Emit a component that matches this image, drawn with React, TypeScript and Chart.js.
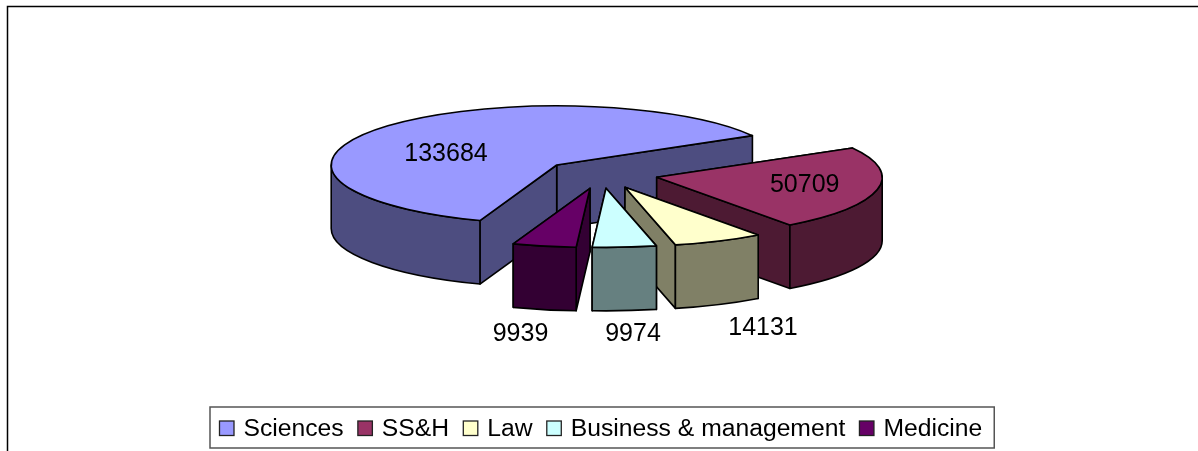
import React, { useEffect, useRef } from "react";
import { Chart, registerables } from "chart.js";

Chart.register(...registerables);

const categories = ["Sciences", "SS&H", "Law", "Business & management", "Medicine"];
const values = [133684, 50709, 14131, 9974, 9939];
const topColors = ["#9999FF", "#993366", "#FFFFCC", "#CCFFFF", "#660066"];
const sideColors = ["#4D4D80", "#4D1A33", "#808066", "#668080", "#330033"];

// Exploded displacement of each slice from the pie centre (px)
const explodeX = [0, 100, 68.3, 49.3, 33.3];
const explodeY = [0, 12.3, 22.3, 23.3, 23.3];
// Value label placement relative to each slice's apex (px)
const labelDX = [-110.7, 148, 138, 27, -69.5];
const labelDY = [-4, 14.4, 147.7, 152.4, 152.7];

const FONT = "25px 'Liberation Sans', Arial, sans-serif";
const LEGEND_FONT = "24.7px 'Liberation Sans', Arial, sans-serif";
const TILT = 0.262;
const DEPTH = 63.5;
const EDGE = 1.6;

const pie3dPlugin = {
  id: "pie3d",
  beforeDatasetDraw(chart: any) {
    const ctx: CanvasRenderingContext2D = chart.ctx;
    const arcs = chart.getDatasetMeta(0).data;
    ctx.save();
    ctx.lineJoin = "round";
    ctx.lineWidth = EDGE;
    ctx.strokeStyle = "#000";

    const paint = (fill: string) => {
      ctx.fillStyle = fill;
      ctx.fill();
      ctx.stroke();
    };

    arcs.forEach((arc: any, i: number) => {
      const { x, y, startAngle: a, endAngle: b, outerRadius: r } = arc.getProps(
        ["x", "y", "startAngle", "endAngle", "outerRadius"],
        true
      );
      const cx = x + explodeX[i];
      const cy = y + explodeY[i];
      const ry = r * TILT;

      // radial cut faces, far one first
      const faces = [a, b]
        .map((t) => ({ px: cx + r * Math.cos(t), py: cy + ry * Math.sin(t) }))
        .sort((p, q) => p.py - q.py);
      faces.forEach(({ px, py }) => {
        ctx.beginPath();
        ctx.moveTo(cx, cy);
        ctx.lineTo(px, py);
        ctx.lineTo(px, py + DEPTH);
        ctx.lineTo(cx, cy + DEPTH);
        ctx.closePath();
        paint(sideColors[i]);
      });

      // outer curved wall, only where it faces the viewer
      for (let n = -1; n <= 1; n++) {
        const lo = Math.max(a, n * 2 * Math.PI);
        const hi = Math.min(b, n * 2 * Math.PI + Math.PI);
        if (hi > lo) {
          ctx.beginPath();
          ctx.ellipse(cx, cy, r, ry, 0, lo, hi);
          ctx.ellipse(cx, cy + DEPTH, r, ry, 0, hi, lo, true);
          ctx.closePath();
          paint(sideColors[i]);
        }
      }

      // top face
      ctx.beginPath();
      ctx.moveTo(cx, cy);
      ctx.ellipse(cx, cy, r, ry, 0, a, b);
      ctx.closePath();
      paint(topColors[i]);
    });

    // value labels
    ctx.font = FONT;
    ctx.fillStyle = "#000";
    ctx.textAlign = "center";
    ctx.textBaseline = "alphabetic";
    arcs.forEach((arc: any, i: number) => {
      ctx.fillText(
        String(chart.data.datasets[0].data[i]),
        arc.x + explodeX[i] + labelDX[i],
        arc.y + explodeY[i] + labelDY[i]
      );
    });
    ctx.restore();
    return false;
  },
  afterDraw(chart: any) {
    const ctx: CanvasRenderingContext2D = chart.ctx;
    ctx.save();

    // outer frame: top and left edges
    ctx.strokeStyle = "#000";
    ctx.lineWidth = 1.5;
    ctx.beginPath();
    ctx.moveTo(7.5, chart.height);
    ctx.lineTo(7.5, 6.5);
    ctx.lineTo(chart.width, 6.5);
    ctx.stroke();

    // legend
    const left = 210;
    const top = 407;
    const h = 41;
    const swatch = 14.5;
    const gap = 14.2;
    ctx.font = LEGEND_FONT;
    const labels: string[] = chart.data.labels;
    let x = left + 9.5;
    const positions = labels.map((t) => {
      const p = x;
      x += 24 + ctx.measureText(t).width + gap;
      return p;
    });
    const right = x - gap + 12;
    ctx.fillStyle = "#fff";
    ctx.fillRect(left, top, right - left, h);
    ctx.strokeStyle = "#555";
    ctx.lineWidth = 1.5;
    ctx.strokeRect(left, top, right - left, h);

    ctx.textAlign = "left";
    ctx.textBaseline = "alphabetic";
    labels.forEach((t, i) => {
      ctx.fillStyle = topColors[i];
      ctx.strokeStyle = "#222";
      ctx.lineWidth = 1.3;
      ctx.fillRect(positions[i], top + 14, swatch, swatch);
      ctx.strokeRect(positions[i], top + 14, swatch, swatch);
      ctx.fillStyle = "#000";
      ctx.fillText(t, positions[i] + 24, top + 29);
    });
    ctx.restore();
  },
};

export default function App() {
  const ref = useRef<HTMLCanvasElement>(null);
  useEffect(() => {
    document.body.style.margin = "0";
    document.body.style.background = "#fff";
    const chart = new Chart(ref.current as HTMLCanvasElement, {
      type: "pie",
      data: {
        labels: categories,
        datasets: [{ data: values, backgroundColor: topColors, borderWidth: 0 }],
      },
      options: {
        responsive: false,
        animation: false,
        devicePixelRatio: 1,
        radius: 225.5,
        rotation: 199.9,
        layout: { padding: { left: 0, right: 84.6, top: 0, bottom: 121 } },
        plugins: { legend: { display: false }, tooltip: { enabled: false } },
      } as any,
      plugins: [pie3dPlugin as any],
    });
    return () => chart.destroy();
  }, []);
  return <canvas ref={ref} width={1198} height={451} style={{ display: "block" }} />;
}
